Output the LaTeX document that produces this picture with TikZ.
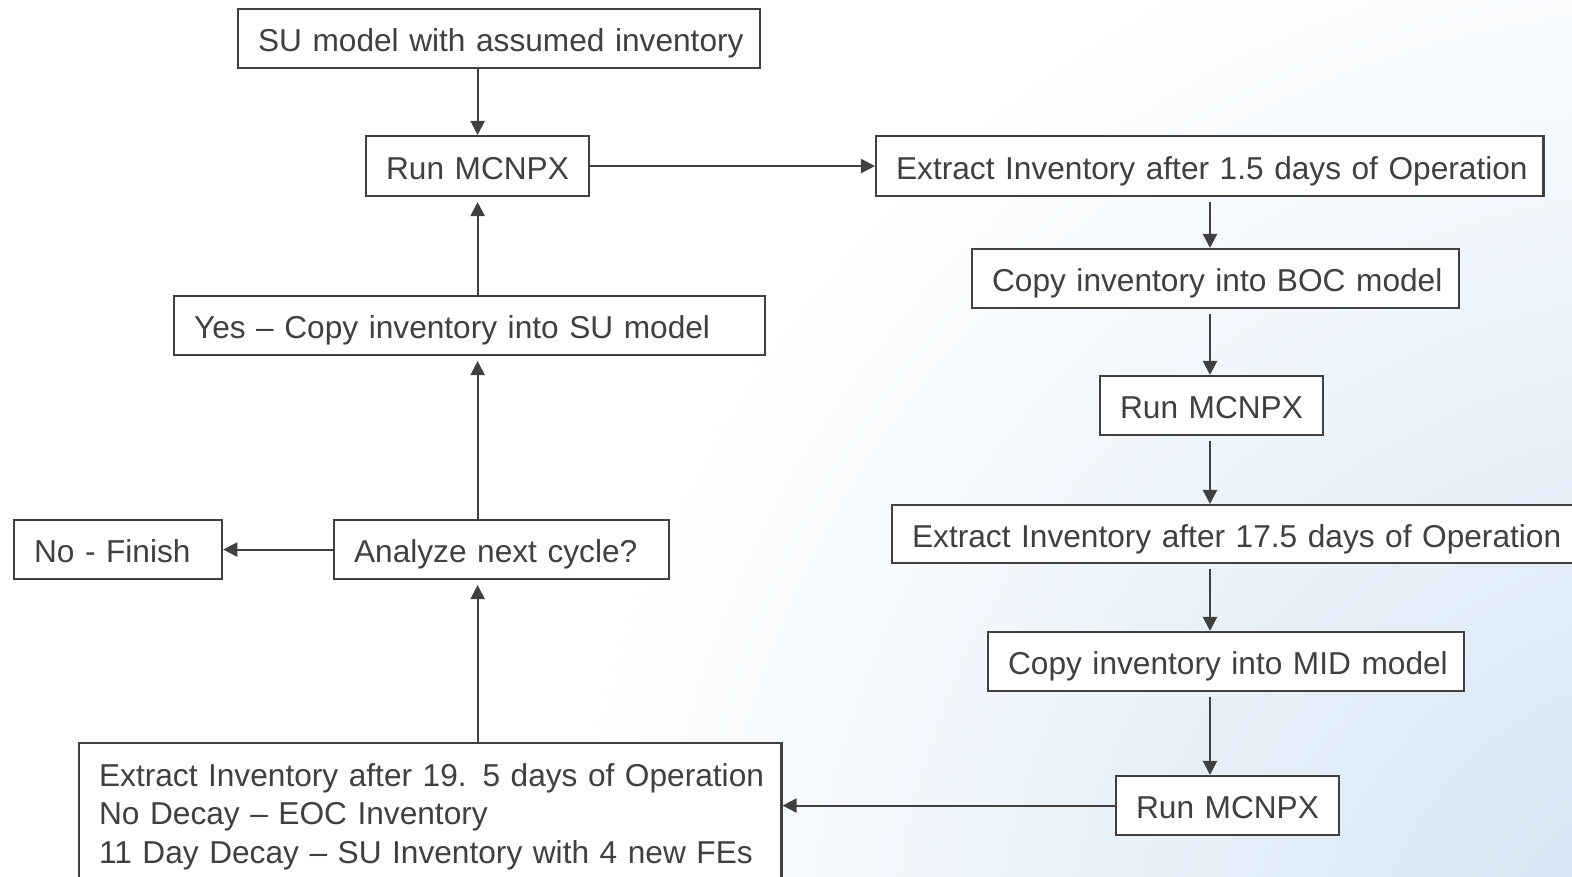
\documentclass[tikz,border=0pt]{standalone}
\usepackage{fontspec}
\setmainfont{Liberation Sans}
\usetikzlibrary{arrows.meta}
\definecolor{ink}{HTML}{404040}
\definecolor{bgblue}{HTML}{CFE2F3}
\begin{document}
\begin{tikzpicture}[x=0.01cm,y=-0.01cm,
  box/.style={draw=ink, fill=white, line width=0.6pt, text=ink, anchor=north west,
    inner xsep=0.2cm, inner ysep=0pt, align=left, font=\fontsize{9}{10.9}\selectfont},
  one/.style={text height=0.76em, text depth=0pt},
  arr/.style={draw=ink, line width=0.6pt, -{Triangle[length=4pt,width=4pt]}},
  gapstart/.style={shorten <=1.4pt},
  gapend/.style={shorten >=1.4pt}]
\useasboundingbox (0,0) rectangle (1572,877);
\begin{scope}
\clip (0,0) rectangle (1572,877);
\fill[white] (0,0) rectangle (1572,877);
\shade[inner color=bgblue, outer color=white] (1700,1000) circle (11.5cm);
\end{scope}

\node[box, one, text width=4.82cm, minimum height=0.59cm] (su)   at (237,8)   {\mbox{SU model with assumed inventory}};
\node[box, one, text width=1.83cm, minimum height=0.60cm] (run1) at (365,135) {\mbox{Run MCNPX}};
\node[box, one, text width=6.27cm, minimum height=0.60cm] (ext1) at (875,135) {\mbox{Extract Inventory after 1.5 days of Operation}};
\node[box, one, text width=4.47cm, minimum height=0.59cm] (boc)  at (971,248) {\mbox{Copy inventory into BOC model}};
\node[box, one, text width=1.83cm, minimum height=0.59cm] (run2) at (1099,375) {\mbox{Run MCNPX}};
\node[box, one, text width=6.69cm, minimum height=0.58cm] (ext2) at (891,504) {\mbox{Extract Inventory after 17.5 days of Operation}};
\node[box, one, text width=4.36cm, minimum height=0.59cm] (mid)  at (987,631) {\mbox{Copy inventory into MID model}};
\node[box, one, text width=1.83cm, minimum height=0.59cm] (run3) at (1115,775) {\mbox{Run MCNPX}};
\node[box, text width=6.62cm, minimum height=1.47cm] (bot)  at (78,742)
  {\mbox{Extract Inventory after 19. 5 days of Operation}\\\mbox{No Decay -- EOC Inventory}\\\mbox{11 Day Decay -- SU Inventory with 4 new FEs}};
\node[box, one, text width=2.95cm, minimum height=0.59cm] (ana)  at (333,519) {\mbox{Analyze next cycle?}};
\node[box, one, text width=1.68cm, minimum height=0.59cm] (fin)  at (13,519)  {\mbox{No - Finish}};
\node[box, one, text width=5.51cm, minimum height=0.59cm] (yes)  at (173,295) {\mbox{Yes -- Copy inventory into SU model}};

\coordinate (col) at (1210,0);

\draw[arr] (su.south -| run1.north) -- (run1.north);
\draw[arr] (run1.east) -- (ext1.west);
\draw[arr,gapstart] (ext1.south -| col) -- (boc.north -| col);
\draw[arr,gapstart] (boc.south -| col) -- (run2.north -| col);
\draw[arr,gapstart] (run2.south -| col) -- (ext2.north -| col);
\draw[arr,gapstart] (ext2.south -| col) -- (mid.north -| col);
\draw[arr,gapstart] (mid.south -| col) -- (run3.north -| col);
\draw[arr] (run3.west) -- (run3.west -| bot.east);
\draw[arr,gapend] (bot.north -| run1.north) -- (ana.south -| run1.north);
\draw[arr,gapend] (ana.north -| run1.north) -- (yes.south -| run1.north);
\draw[arr,gapend] (yes.north -| run1.north) -- (run1.south);
\draw[arr] (ana.west) -- (fin.east);
\end{tikzpicture}
\end{document}
